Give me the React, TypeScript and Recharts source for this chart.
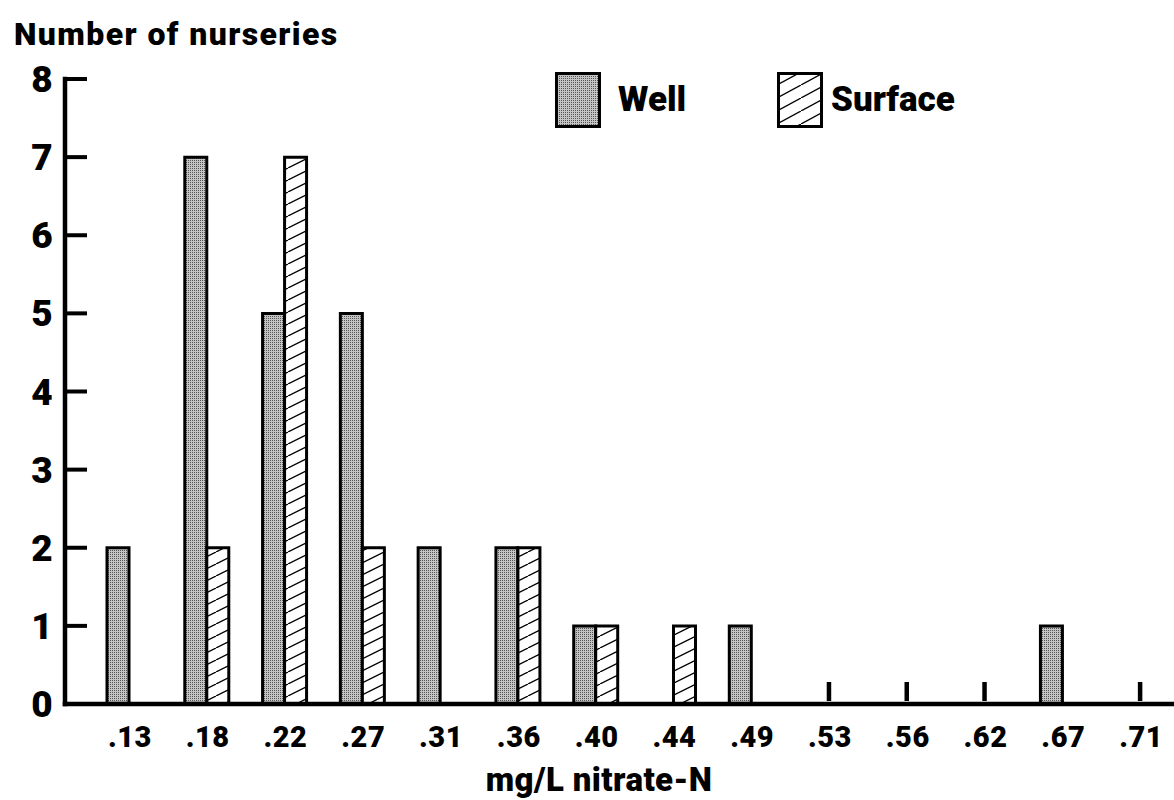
import { BarChart, Bar, XAxis, YAxis, Legend } from 'recharts'

const concentrations = ['.13', '.18', '.22', '.27', '.31', '.36', '.40', '.44', '.49', '.53', '.56', '.62', '.67', '.71']
const wellCounts = [2, 7, 5, 5, 2, 2, 1, 0, 1, 0, 0, 0, 1, 0]
const surfaceCounts = [0, 2, 7, 2, 0, 2, 1, 1, 0, 0, 0, 0, 0, 0]
const countTicks = [0, 1, 2, 3, 4, 5, 6, 7, 8]

const data = concentrations.map((conc, i) => ({ conc, well: wellCounts[i], surface: surfaceCounts[i] }))

const FONT = 'Roboto, "Noto Sans", sans-serif'

function CountTick({ x, y, payload }: any) {
  return (
    <g>
      <line x1={x} x2={x + 22} y1={y} y2={y} stroke="#000" strokeWidth={4} />
      <text x={x - 23} y={y} dy={13} textAnchor="middle" fontFamily={FONT} fontWeight={900} fontSize={37} fill="#000">
        {payload.value}
      </text>
    </g>
  )
}

function ConcTick({ x, y, payload }: any) {
  const row = data.find((d) => d.conc === payload.value)
  const empty = row && row.well === 0 && row.surface === 0
  return (
    <g>
      {empty ? <line x1={x} x2={x} y1={y - 3} y2={y - 22} stroke="#000" strokeWidth={4.5} /> : null}
      <text x={x + 1} y={y} dy={43} textAnchor="middle" fontFamily={FONT} fontWeight={900} fontSize={29} letterSpacing={0.5} fill="#000">
        {payload.value}
      </text>
    </g>
  )
}

function Swatch({ kind }: { kind: 'well' | 'surface' }) {
  const id = kind === 'well' ? 'lg-stipple' : 'lg-hatch'
  return (
    <svg width={46} height={56} style={{ display: 'block' }}>
      <defs>
        <pattern id="lg-stipple" width={2} height={2} patternUnits="userSpaceOnUse">
          <rect width={2} height={2} fill="#c4c4c4" />
          <rect width={1} height={1} fill="#555" />
        </pattern>
        <pattern id="lg-hatch" width={24} height={13} patternUnits="userSpaceOnUse">
          <rect width={24} height={13} fill="#fff" />
          <line x1={0} y1={13} x2={24} y2={0} stroke="#000" strokeWidth={1.3} />
        </pattern>
      </defs>
      <rect x={1.5} y={1.5} width={43} height={53} fill={`url(#${id})`} stroke="#000" strokeWidth={3} />
    </svg>
  )
}

function LegendBox() {
  const label = { position: 'absolute' as const, top: 8, fontFamily: FONT, fontWeight: 900, fontSize: 35, lineHeight: '40px', color: '#000' }
  return (
    <div style={{ position: 'relative', width: 420, height: 58 }}>
      <div style={{ position: 'absolute', left: 0, top: 0 }}>
        <Swatch kind="well" />
      </div>
      <div style={{ ...label, left: 63 }}>Well</div>
      <div style={{ position: 'absolute', left: 222, top: 0 }}>
        <Swatch kind="surface" />
      </div>
      <div style={{ ...label, left: 276 }}>Surface</div>
    </div>
  )
}

export default function App() {
  return (
    <div style={{ position: 'absolute', left: 0, top: 0, width: 1174, height: 800, overflow: 'hidden', background: '#fff' }}>
      <BarChart width={1180} height={800} data={data} margin={{ top: 79, right: 0, left: 0, bottom: 0 }} barSize={22} barGap={0}>
        <defs>
          <pattern id="stipple" width={2} height={2} patternUnits="userSpaceOnUse">
            <rect width={2} height={2} fill="#c4c4c4" />
            <rect width={1} height={1} fill="#555" />
          </pattern>
          <pattern id="hatch" width={24} height={12} patternUnits="userSpaceOnUse">
            <rect width={24} height={12} fill="#fff" />
            <line x1={0} y1={12} x2={24} y2={0} stroke="#000" strokeWidth={1.3} />
            <line x1={-24} y1={12} x2={0} y2={0} stroke="#000" strokeWidth={1.3} />
            <line x1={24} y1={12} x2={48} y2={0} stroke="#000" strokeWidth={1.3} />
          </pattern>
        </defs>
        <XAxis
          dataKey="conc"
          height={96}
          interval={0}
          padding={{ left: 25, right: 1 }}
          axisLine={{ stroke: '#000', strokeWidth: 4.5, strokeLinecap: 'square' }}
          tickLine={false}
          tickSize={0}
          tickMargin={0}
          tick={<ConcTick />}
        />
        <YAxis
          width={65}
          domain={[0, 8]}
          ticks={countTicks}
          interval={0}
          axisLine={{ stroke: '#000', strokeWidth: 4.5, strokeLinecap: 'square' }}
          tickLine={false}
          tickSize={0}
          tickMargin={0}
          tick={<CountTick />}
        />
        <Legend
          layout="vertical"
          verticalAlign="middle"
          align="center"
          content={() => <LegendBox />}
          wrapperStyle={{ left: 555, top: 72, width: 420, height: 58 }}
        />
        <Bar dataKey="well" name="Well" fill="url(#stipple)" stroke="#000" strokeWidth={3} isAnimationActive={false} />
        <Bar dataKey="surface" name="Surface" fill="url(#hatch)" stroke="#000" strokeWidth={3} isAnimationActive={false} />
      </BarChart>
      <svg width={1174} height={800} style={{ position: 'absolute', left: 0, top: 0, pointerEvents: 'none' }}>
        <text x={14} y={45} fontFamily={FONT} fontWeight={900} fontSize={32} letterSpacing={1.4} fill="#000">
          Number of nurseries
        </text>
        <text x={599} y={791} textAnchor="middle" fontFamily={FONT} fontWeight={900} fontSize={33} letterSpacing={0.4} fill="#000">
          mg/L nitrate-N
        </text>
      </svg>
    </div>
  )
}
